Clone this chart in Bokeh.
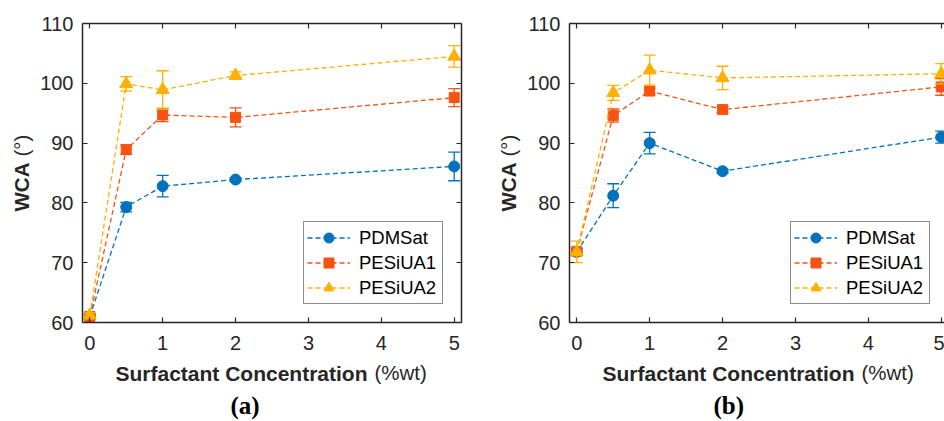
import numpy as np
from bokeh.plotting import figure
from bokeh.models import (ColumnDataSource, Legend, LegendItem,
                          LinearAxis, FixedTicker, Range1d, Title)
from bokeh.layouts import row
from bokeh.embed import file_html
from bokeh.resources import INLINE

# ---------------- data ----------------
conc = [0, 0.5, 1, 2, 5]
series_names = ["PDMSat", "PESiUA1", "PESiUA2"]
series_colors = ["#0072BD", "#F85212", "#FFB000"]
series_markers = ["circle", "square", "triangle"]
series_sizes = [11, 10, 13]

# panel (a)
pdms_a = [61.0, 79.3, 82.8, 83.9, 86.1]
pdms_a_err = [0.4, 0.8, 1.8, 0.3, 2.4]
pesi1_a = [61.0, 88.9, 94.7, 94.3, 97.6]
pesi1_a_err = [0.4, 0.8, 1.1, 1.6, 1.5]
pesi2_a = [61.2, 99.9, 98.9, 101.3, 104.5]
pesi2_a_err = [0.4, 1.2, 3.2, 0.6, 1.8]

# panel (b)
pdms_b = [71.8, 81.2, 90.0, 85.3, 91.0]
pdms_b_err = [0.5, 2.0, 1.8, 0.3, 1.0]
pesi1_b = [71.9, 94.6, 98.7, 95.6, 99.4]
pesi1_b_err = [0.5, 1.1, 0.5, 0.5, 1.4]
pesi2_b = [71.8, 98.4, 102.2, 100.9, 101.6]
pesi2_b_err = [1.8, 1.25, 2.5, 1.95, 1.7]

x_ticks = [0, 1, 2, 3, 4, 5]
y_ticks = [60, 70, 80, 90, 100, 110]
x_title_bold = "Surfactant Concentration"
x_title_norm = "(%wt)"
y_title_bold = "WCA"
y_title_norm = "(°)"

# ---------------- layout ----------------
X0, X1 = -0.1, 5.1
Y0, Y1 = 60, 110
FRAME_H = 299
FRAME_W_A = 379
PX_X = FRAME_W_A / (X1 - X0)
AX_COLOR = "#262626"
FONT = "Liberation Sans"


def make_panel(data, caption, cap_offset, frame_w, left_border, right_border, right_axis):
    x_end = X0 + frame_w / PX_X
    p = figure(frame_width=frame_w, frame_height=FRAME_H,
               min_border_left=left_border, min_border_right=right_border,
               min_border_top=23, min_border_bottom=99,
               x_range=Range1d(X0, x_end), y_range=Range1d(Y0, Y1),
               output_backend="svg", toolbar_location=None,
               background_fill_color="white", border_fill_color="white")
    p.outline_line_color = None
    p.grid.visible = False

    def style(ax, ticks, show_labels):
        ax.axis_line_color = AX_COLOR
        ax.axis_line_width = 1.5
        ax.major_tick_line_color = AX_COLOR
        ax.major_tick_line_width = 1.2
        ax.major_tick_in = 5
        ax.major_tick_out = 0
        ax.minor_tick_line_color = None
        ax.major_label_text_font = FONT
        ax.major_label_text_font_size = "20px"
        ax.major_label_text_color = AX_COLOR
        if not show_labels:
            ax.major_label_overrides = {t: "" for t in ticks}
            ax.major_label_standoff = 0

    p.xaxis.ticker = FixedTicker(ticks=x_ticks)
    p.yaxis.ticker = FixedTicker(ticks=y_ticks)
    style(p.xaxis[0], x_ticks, True)
    style(p.yaxis[0], y_ticks, True)
    p.xaxis.major_label_standoff = 13
    p.yaxis.major_label_standoff = 9

    top = LinearAxis(ticker=FixedTicker(ticks=x_ticks))
    style(top, x_ticks, False)
    p.add_layout(top, "above")
    if right_axis:
        rt = LinearAxis(ticker=FixedTicker(ticks=y_ticks))
        style(rt, y_ticks, False)
        p.add_layout(rt, "right")

    tkw = dict(text_font=FONT, text_color=AX_COLOR, align="left")
    # x title: bold part, then caption, then normal part pulled back onto the same line
    p.add_layout(Title(text=x_title_bold, offset=33, vertical_align="top",
                       standoff=18, text_font_style="bold", text_font_size="21px",
                       **tkw), "below")
    p.add_layout(Title(text=caption, align="left", offset=cap_offset,
                       vertical_align="top", standoff=-8,
                       text_font="Liberation Serif", text_font_style="bold",
                       text_font_size="25px", text_color="black"), "below")
    p.add_layout(Title(text=x_title_norm, offset=292, vertical_align="top",
                       standoff=-111, text_font_style="normal",
                       text_font_size="20.5px", **tkw), "below")
    # y title
    p.add_layout(Title(text=y_title_bold, offset=111, vertical_align="bottom",
                       standoff=10, text_font_style="bold", text_font_size="20.5px",
                       **tkw), "left")
    p.add_layout(Title(text=y_title_norm, offset=166, vertical_align="bottom",
                       standoff=-60, text_font_style="normal",
                       text_font_size="20.5px", **tkw), "left")

    items = []
    for (ys, errs), name, color, marker, size in zip(data, series_names, series_colors,
                                                      series_markers, series_sizes):
        ys = np.array(ys)
        errs = np.array(errs)
        src = ColumnDataSource(dict(x=conc, y=ys, upper=ys + errs, lower=ys - errs))
        p.segment(x0="x", y0="lower", x1="x", y1="upper", source=src,
                  line_color=color, line_width=1.3)
        p.scatter("x", "upper", source=src, marker="dash", size=12,
                  line_color=color, line_width=1.3)
        p.scatter("x", "lower", source=src, marker="dash", size=12,
                  line_color=color, line_width=1.3)
        lr = p.line("x", "y", source=src, line_color=color, line_width=1.3,
                    line_dash="5 3")
        sr = p.scatter("x", "y", source=src, marker=marker, size=size,
                       fill_color=color, line_color=color, line_width=1)
        items.append(LegendItem(label=name, renderers=[lr, sr]))

    legend = Legend(items=items, location=(221, 18), padding=3, spacing=0,
                    glyph_height=25, glyph_width=43, label_standoff=9,
                    label_width=80, label_height=20,
                    label_text_font=FONT, label_text_font_size="18.5px",
                    label_text_color="black", label_text_baseline="middle",
                    border_line_color="#1a1a1a", border_line_width=1.5,
                    background_fill_color="white", background_fill_alpha=1.0,
                    margin=0)
    p.add_layout(legend, "center")
    return p


data_a = [(pdms_a, pdms_a_err), (pesi1_a, pesi1_a_err), (pesi2_a, pesi2_a_err)]
data_b = [(pdms_b, pdms_b_err), (pesi1_b, pesi1_b_err), (pesi2_b, pesi2_b_err)]

pa = make_panel(data_a, "(a)", 148, FRAME_W_A, 82, 19, True)
pb = make_panel(data_b, "(b)", 144, 375, 89, 0, False)

layout = row(pa, pb, spacing=0)
open("out.html", "w").write(file_html(layout, INLINE))
